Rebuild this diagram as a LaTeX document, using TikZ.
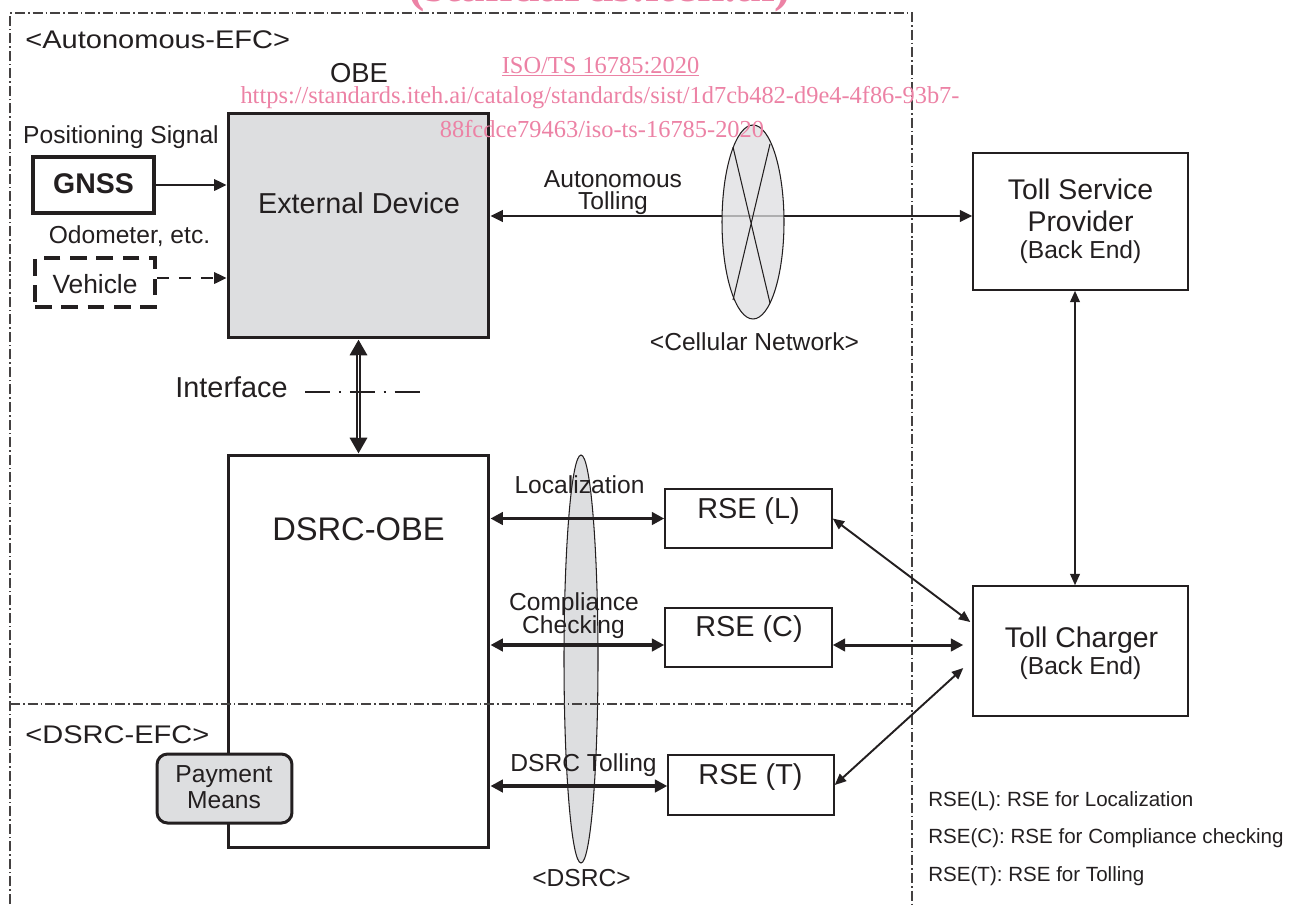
\documentclass[tikz,border=0pt]{standalone}
\usepackage{fontspec}
\setmainfont{Liberation Sans}
\newfontfamily\wmfont{Liberation Serif}
\usetikzlibrary{arrows.meta,calc}
\definecolor{ink}{RGB}{35,31,32}
\definecolor{boxgray}{RGB}{221,222,224}
\definecolor{wmpink}{RGB}{236,130,165}
\tikzset{
  thickbox/.style={draw=ink, line width=1.7pt, inner sep=0pt},
  thinbox/.style={draw=ink, line width=0.85pt, inner sep=0pt},
  lbl/.style={text=ink, anchor=base, inner sep=0pt},
  fbig/.style={lbl, font=\fontsize{16.4}{19}\selectfont},
  fmed/.style={lbl, font=\fontsize{14}{16}\selectfont},
  fleg/.style={lbl, anchor=base west, font=\fontsize{11.7}{14}\selectfont},
  fefc/.style={lbl, anchor=base west, xscale=1.14, font=\fontsize{14.5}{17}\selectfont},
  framel/.style={draw=ink!85, line width=0.8pt, dash pattern=on 5.7pt off 1.7pt on 0.9pt off 1.7pt},
  wm/.style={text=wmpink, anchor=base, inner sep=0pt, font=\wmfont\fontsize{13.9}{16}\selectfont},
  tipA/.style={-{Triangle[length=7pt,width=6.5pt]}},
  dblA/.style={{Triangle[length=7pt,width=6.5pt]}-{Triangle[length=7pt,width=6.5pt]}},
  dblB/.style={{Triangle[length=7pt,width=7pt]}-{Triangle[length=7pt,width=7pt]}},
  dblC/.style={{Triangle[length=6.5pt,width=5.5pt]}-{Triangle[length=6.5pt,width=5.5pt]}},
  dblI/.style={{Triangle[length=9pt,width=9.5pt]}-{Triangle[length=9pt,width=9.5pt]}}
}
\begin{document}
\begin{tikzpicture}[x=0.02cm,y=-0.02cm]
\useasboundingbox (0,0) rectangle (1301,904);

% helper coordinates
\coordinate (y216) at (0,216);
\coordinate (y278) at (0,278);
\coordinate (y645) at (0,645);
\coordinate (y786) at (0,786);
\coordinate (x1075) at (1075,0);

% frame
\draw[framel] (10,904) -- (10,13) -- (912,13) -- (912,904);

% boxes
\node[thickbox, fill=boxgray, minimum width=5.22cm, minimum height=4.5cm] (ext) at (358.5,225.5) {};
\node[thickbox, minimum width=5.22cm, minimum height=7.86cm] (dsrc) at (358.5,651.5) {};
\node[thickbox, line width=2.2pt, minimum width=2.42cm, minimum height=1.12cm] (gnss) at (93.5,185) {};
\node[draw=ink, line width=2.2pt, dash pattern=on 9.5pt off 5.5pt, minimum width=2.4cm, minimum height=0.98cm, inner sep=0pt] (veh) at (95,282.5) {};
\node[thinbox, minimum width=4.3cm, minimum height=2.74cm] (tsp) at (1080.5,221.5) {};
\node[thinbox, minimum width=4.3cm, minimum height=2.6cm] (tc) at (1080.5,651) {};
\node[thinbox, minimum width=3.34cm, minimum height=1.18cm] (rsel) at (748.5,518.5) {};
\node[thinbox, minimum width=3.34cm, minimum height=1.18cm] (rsec) at (748.5,637.5) {};
\node[thinbox, minimum width=3.32cm, minimum height=1.2cm] (rset) at (751,785) {};
\node[thickbox, fill=boxgray, rounded corners=6pt, minimum width=2.7cm, minimum height=1.38cm] (pay) at (224.5,788.5) {};

% DSRC ellipse
\draw[draw=ink, line width=0.6pt, fill=boxgray] (581,659) ellipse [x radius=0.34cm, y radius=4.08cm];

% divider
\draw[framel] (10,704) -- (912,704);

% arrows on the left
\draw[ink, line width=1.1pt, tipA] (gnss.east) -- (gnss.east -| ext.west);
\draw[ink, line width=1.1pt, dash pattern=on 7pt off 5.5pt, tipA] (veh.east |- y278) -- (ext.west |- y278);

% interface (double line)
\draw[ink, line width=2.8pt, dblI] (ext.south) -- (dsrc.north);
\draw[white, line width=1pt, shorten <=9pt, shorten >=9pt] (ext.south) -- (dsrc.north);
\draw[ink, line width=1.1pt, dash pattern=on 14.2pt off 5.1pt on 1.1pt off 5.1pt] (305,392) -- (423,392);

% autonomous tolling + cellular network
\draw[ink, line width=1.5pt, dblA] (ext.east |- y216) -- (tsp.west |- y216);
\draw[ink, line width=0.6pt, fill=boxgray, fill opacity=0.75] (753,222) ellipse [x radius=0.62cm, y radius=1.94cm];
\draw[ink, line width=0.6pt] (733,147) -- (770,303) (770,144) -- (733,300);

% DSRC links
\draw[ink, line width=1.9pt, dblB] (dsrc.east |- rsel.west) -- (rsel.west);
\draw[ink, line width=1.9pt, dblB] (dsrc.east |- y645) -- (rsec.west |- y645);
\draw[ink, line width=1.9pt, dblB] (dsrc.east |- y786) -- (rset.west |- y786);

% back end links
\coordinate (tcL) at ($(tc.west)+(-2,-29)$);
\coordinate (tcC) at ($(tc.west |- y645)+(-9,0)$);
\coordinate (tcT) at ($(tc.west)+(-9,17)$);
\draw[ink, line width=1.1pt, dblC] (tsp.south -| x1075) -- (tc.north -| x1075);
\draw[ink, line width=1.1pt, dblC] (rsel.east) -- (tcL);
\draw[ink, line width=1.7pt, dblB] (rsec.east |- y645) -- (tcC);
\draw[ink, line width=1.1pt, dblC] (rset.east) -- (tcT);

% texts
\node[fefc] (tautefc) at (25,48) {<Autonomous-EFC>};
\node[fefc] (tdsrcefc) at (25,743) {<DSRC-EFC>};
\node[lbl, font=\fontsize{15.6}{18}\selectfont] (tobe) at (359,82) {OBE};
\node[fmed] (tpos) at (121,143) {Positioning Signal};
\node[lbl, font=\bfseries\fontsize{16.2}{19}\selectfont] (tgnss) at (93.5,193) {GNSS};
\node[fmed] (todo) at (129.5,243) {Odometer, etc.};
\node[lbl, font=\fontsize{15}{18}\selectfont] (tveh) at (95,293) {Vehicle};
\node[fbig] (text) at (359,213) {External Device};
\node[fbig] (tint) at (231.5,397) {Interface};
\node[fmed] (tauto1) at (613,187) {Autonomous};
\node[fmed] (tauto2) at (613,209) {Tolling};
\node[fmed] (tcell) at (754.5,350) {<Cellular Network>};
\node[lbl, font=\fontsize{18.6}{22}\selectfont] (tdsrc) at (358.5,540) {DSRC-OBE};
\node[fmed] (tloc) at (579.5,493) {Localization};
\node[fmed] (tcomp1) at (574,610) {Compliance};
\node[fmed] (tcomp2) at (573.5,633) {Checking};
\node[fmed] (tdt) at (583.5,771) {DSRC Tolling};
\node[fmed] (tdsrcnet) at (581.5,886) {<DSRC>};
\node[fbig] (trsel) at (748.5,518) {RSE (L)};
\node[fbig] (trsec) at (749,636) {RSE (C)};
\node[fbig] (trset) at (750.5,784) {RSE (T)};
\node[lbl, font=\fontsize{16.2}{19}\selectfont] (ttsp1) at (1080.5,199) {Toll Service};
\node[lbl, font=\fontsize{16.2}{19}\selectfont] (ttsp2) at (1080.5,231) {Provider};
\node[fmed] (ttsp3) at (1080.5,258) {(Back End)};
\node[lbl, font=\fontsize{16.2}{19}\selectfont] (ttc1) at (1081.5,647) {Toll Charger};
\node[fmed] (ttc2) at (1080.5,674) {(Back End)};
\node[fmed] (tpay1) at (224,782) {Payment};
\node[fmed] (tpay2) at (224,808) {Means};
\node[fleg] (leg1) at (928,806) {RSE(L): RSE for Localization};
\node[fleg] (leg2) at (928,843) {RSE(C): RSE for Compliance checking};
\node[fleg] (leg3) at (928,881) {RSE(T): RSE for Tolling};

% watermark
\node[wm, font=\wmfont\bfseries\fontsize{28}{30}\selectfont] (wm0) at (600,1) {(standards.iteh.ai)};
\node[wm] (wm1) at (600.5,73) {\underline{ISO/TS 16785:2020}};
\node[wm] (wm2) at (600,103) {https://standards.iteh.ai/catalog/standards/sist/1d7cb482-d9e4-4f86-93b7-};
\node[wm] (wm3) at (602,137) {88fcdce79463/iso-ts-16785-2020};
\end{tikzpicture}
\end{document}
